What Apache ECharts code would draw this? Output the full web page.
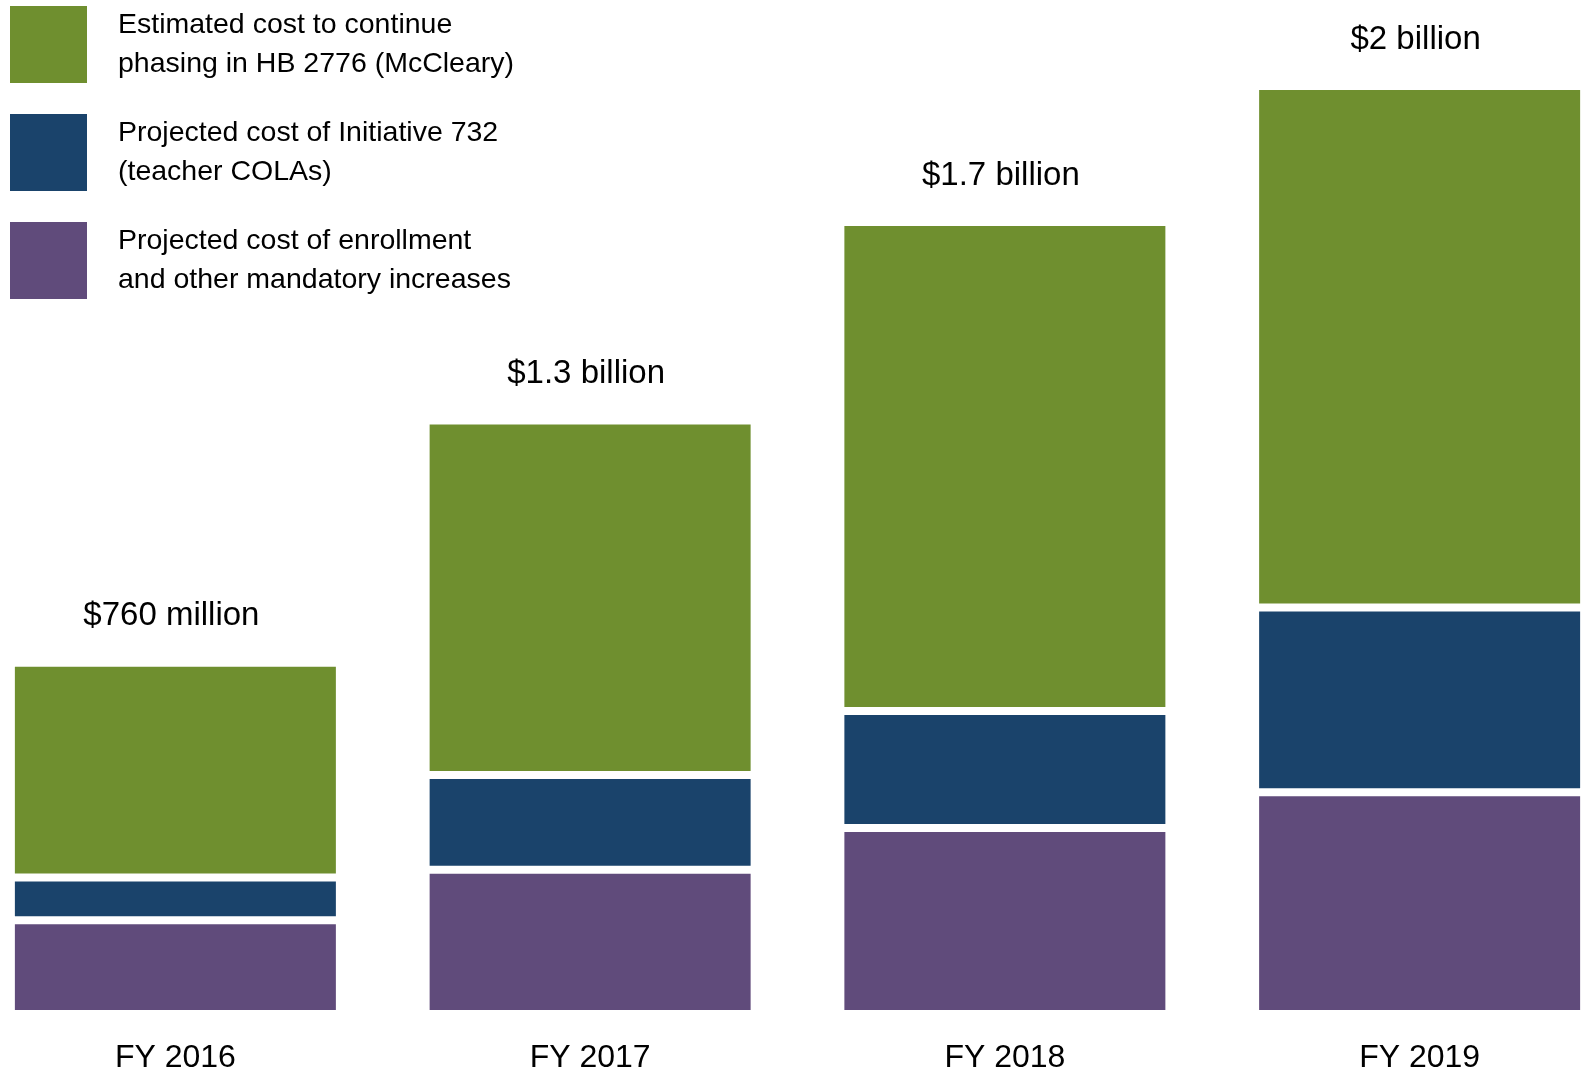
<!DOCTYPE html>
<html>
<head>
<meta charset="utf-8">
<title>Cost increases</title>
<script src="https://cdn.jsdelivr.net/npm/echarts@6/dist/echarts.min.js"></script>
<style>
  html, body { margin: 0; padding: 0; background: #ffffff; overflow: hidden; width: 1582px; height: 1074px; }
  #wrap { position: relative; width: 1582px; height: 1074px; overflow: hidden; }
  #chart { position: absolute; left: -32px; top: 0; width: 1659px; height: 1074px; }
</style>
</head>
<body>
<div id="wrap"><div id="chart"></div></div>
<script>
const categories = ['FY 2016', 'FY 2017', 'FY 2018', 'FY 2019'];
const enrollmentCost = [202, 311, 401, 478];
const initiative732Cost = [92, 204, 252, 398];
const mcClearyCost = [463, 764, 1054, 1124];
const totalLabels = ['$760 million', '$1.3 billion', '$1.7 billion', '$2 billion'];
const seriesNames = [
  'Estimated cost to continue\nphasing in HB 2776 (McCleary)',
  'Projected cost of Initiative 732\n(teacher COLAs)',
  'Projected cost of enrollment\nand other mandatory increases'
];
const seriesColors = ['#6F8F2F', '#1A436B', '#604B7B'];

const chart = echarts.init(document.getElementById('chart'), null, { renderer: 'canvas' });

const barCommon = {
  type: 'bar',
  stack: 'total',
  barWidth: 329,
  emphasis: { disabled: true }
};

function barStyle(color) {
  return { color: color, borderColor: '#ffffff', borderWidth: 4 };
}

chart.setOption({
  backgroundColor: '#ffffff',
  animation: false,
  legend: {
    orient: 'vertical',
    left: 42,
    top: 2,
    padding: 0,
    itemWidth: 77,
    itemHeight: 77,
    itemGap: 23,
    icon: 'rect',
    selectedMode: false,
    itemStyle: { borderWidth: 0 },
    data: [seriesNames[0], seriesNames[1], seriesNames[2]],
    textStyle: {
      fontFamily: '"Liberation Sans", Arial, sans-serif',
      fontSize: 28.5,
      lineHeight: 39,
      color: '#000000',
      padding: [7, 0, 0, 26]
    }
  },
  grid: { left: 0, right: 0, top: 86, bottom: 60, containLabel: false, outerBoundsMode: 'none' },
  xAxis: {
    type: 'category',
    data: categories,
    axisLine: { show: false },
    axisTick: { show: false },
    axisLabel: {
      margin: 28,
      fontFamily: '"Liberation Sans", Arial, sans-serif',
      fontSize: 32,
      color: '#000000'
    }
  },
  yAxis: {
    type: 'value',
    min: 0,
    max: 2000,
    show: false,
    splitLine: { show: false }
  },
  series: [
    Object.assign({}, barCommon, {
      name: seriesNames[2],
      data: enrollmentCost,
      itemStyle: barStyle(seriesColors[2])
    }),
    Object.assign({}, barCommon, {
      name: seriesNames[1],
      data: initiative732Cost,
      itemStyle: barStyle(seriesColors[1])
    }),
    Object.assign({}, barCommon, {
      name: seriesNames[0],
      data: mcClearyCost,
      itemStyle: barStyle(seriesColors[0]),
      label: {
        show: true,
        position: 'top',
        distance: 30,
        offset: [-4, 0],
        formatter: function (p) { return totalLabels[p.dataIndex]; },
        fontFamily: '"Liberation Sans", Arial, sans-serif',
        fontSize: 33,
        color: '#000000'
      }
    })
  ]
});
</script>
</body>
</html>
